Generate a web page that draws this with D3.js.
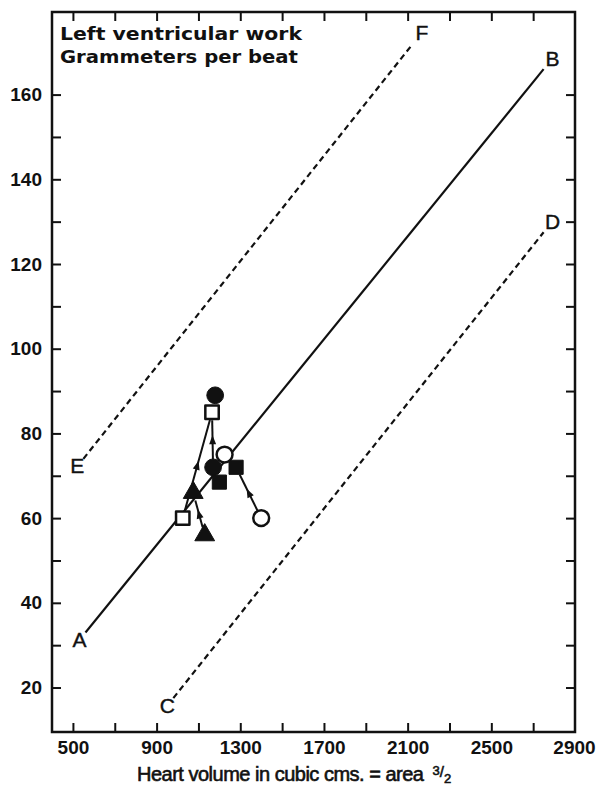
<!DOCTYPE html>
<html>
<head>
<meta charset="utf-8">
<script src="https://cdn.jsdelivr.net/npm/d3@7"></script>
<style>
  body { margin: 0; background: #fff; }
  svg { display: block; }
  .tick text { font-family: 'Liberation Sans', Arial, sans-serif; font-weight: bold; font-size: 19px; fill: #111; }
  .letter { font-family: 'Liberation Sans', Arial, sans-serif; font-size: 21px; fill: #111; stroke: #111; stroke-width: 0.4; }
  .title { font-family: 'DejaVu Sans', sans-serif; font-weight: bold; font-size: 17px; fill: #111; }
  .axisLabel { font-family: 'Liberation Sans', Arial, sans-serif; font-size: 20px; fill: #111; stroke: #111; stroke-width: 0.6; }
</style>
</head>
<body>
<div id="chart"></div>
<script>
// Axis ticks
const xTicks = [500, 700, 900, 1100, 1300, 1500, 1700, 1900, 2100, 2300, 2500, 2700];
const xLabels = [500, 900, 1300, 1700, 2100, 2500, 2900];
const yTicks = [20, 30, 40, 50, 60, 70, 80, 90, 100, 110, 120, 130, 140, 150, 160];
const yLabels = [20, 40, 60, 80, 100, 120, 140, 160];

// Reference lines: start and end labels, volumes and work
const lineStartName = ['A', 'E', 'C'];
const lineEndName = ['B', 'F', 'D'];
const lineStartVolume = [560, 550, 980];
const lineStartWork = [33, 74, 17.5];
const lineEndVolume = [2750, 2125, 2750];
const lineEndWork = [166, 172, 127.5];
const lineDashed = [false, true, true];

// Observations
const pointVolume = [1180, 1165, 1225, 1170, 1280, 1200, 1075, 1025, 1130, 1400];
const pointWork = [89, 85, 75, 72, 72, 68.5, 66, 60, 56, 60];
const pointShape = ['circle', 'square', 'circle', 'circle', 'square', 'square', 'triangle', 'square', 'triangle', 'circle'];
const pointFilled = [true, false, false, true, true, true, true, false, true, false];
// arrows: from point index -> to point index
const arrowFrom = [7, 3, 8, 9];
const arrowTo = [1, 1, 6, 4];

const W = 596, H = 799;
const margin = { left: 52, right: 21, top: 12, bottom: 67 };
const width = W - margin.left - margin.right;
const height = H - margin.top - margin.bottom;

const svg = d3.select('#chart').append('svg')
  .attr('width', W)
  .attr('height', H);
const g = svg.append('g')
  .attr('transform', 'translate(' + margin.left + ',' + margin.top + ')');

const x = d3.scaleLinear().domain([400, 2900]).range([0, width]);
const y = d3.scaleLinear().domain([9.5, 179.5]).range([height, 0]);

// Axes (ticks pointing inward)
const tickLen = 9;
const xAxisB = g.append('g')
  .attr('transform', 'translate(0,' + height + ')')
  .call(d3.axisBottom(x).tickValues(xTicks).tickSize(-tickLen).tickFormat(''));
const xAxisT = g.append('g')
  .call(d3.axisTop(x).tickValues(xTicks).tickSize(-tickLen).tickFormat(''));
const yAxisL = g.append('g')
  .call(d3.axisLeft(y).tickValues(yTicks).tickSize(-tickLen).tickFormat(''));
const yAxisR = g.append('g')
  .attr('transform', 'translate(' + width + ',0)')
  .call(d3.axisRight(y).tickValues(yTicks).tickSize(-tickLen).tickFormat(''));
[xAxisB, xAxisT, yAxisL, yAxisR].forEach(a => {
  a.select('.domain').remove();
  a.selectAll('.tick line').attr('stroke', '#111').attr('stroke-width', 2);
});

// Label-only axes
const xLab = g.append('g')
  .attr('transform', 'translate(0,' + height + ')')
  .call(d3.axisBottom(x).tickValues(xLabels).tickSize(0).tickPadding(9).tickFormat(d3.format('d')));
xLab.select('.domain').remove();
// keep the last label inside the page
xLab.selectAll('.tick text').filter(d => d === 2900).attr('dx', -1);
const yLab = g.append('g')
  .call(d3.axisLeft(y).tickValues(yLabels).tickSize(0).tickPadding(10).tickFormat(d3.format('d')));
yLab.select('.domain').remove();

// Frame
g.append('rect')
  .attr('x', 0).attr('y', 0)
  .attr('width', width).attr('height', height)
  .attr('fill', 'none')
  .attr('stroke', '#111')
  .attr('stroke-width', 2.5);

// Reference lines
lineStartName.forEach((name, i) => {
  const x1 = x(lineStartVolume[i]), y1 = y(lineStartWork[i]);
  const x2 = x(lineEndVolume[i]), y2 = y(lineEndWork[i]);
  g.append('line')
    .attr('x1', x1).attr('y1', y1)
    .attr('x2', x2).attr('y2', y2)
    .attr('stroke', '#111')
    .attr('stroke-width', 2.2)
    .attr('stroke-dasharray', lineDashed[i] ? '6,4' : null);
  g.append('text')
    .attr('class', 'letter')
    .attr('x', x1 - 6).attr('y', y1 + 9)
    .attr('text-anchor', 'middle')
    .attr('dominant-baseline', 'middle')
    .text(name);
  g.append('text')
    .attr('class', 'letter')
    .attr('x', x2 + 9).attr('y', y2 - 9)
    .attr('text-anchor', 'middle')
    .attr('dominant-baseline', 'middle')
    .text(lineEndName[i]);
});

// Arrows
arrowFrom.forEach((from, i) => {
  const to = arrowTo[i];
  const x1 = x(pointVolume[from]), y1 = y(pointWork[from]);
  const x2 = x(pointVolume[to]), y2 = y(pointWork[to]);
  const len = Math.hypot(x2 - x1, y2 - y1);
  const ux = (x2 - x1) / len, uy = (y2 - y1) / len;
  const pad = 8;
  g.append('line')
    .attr('x1', x1 + ux * pad).attr('y1', y1 + uy * pad)
    .attr('x2', x2 - ux * pad).attr('y2', y2 - uy * pad)
    .attr('stroke', '#111')
    .attr('stroke-width', 2);
  const mx = (x1 + x2) / 2, my = (y1 + y2) / 2;
  const hl = 9, hw = 3.5;
  const tip = [mx + ux * hl / 2, my + uy * hl / 2];
  const b1 = [mx - ux * hl / 2 - uy * hw, my - uy * hl / 2 + ux * hw];
  const b2 = [mx - ux * hl / 2 + uy * hw, my - uy * hl / 2 - ux * hw];
  g.append('path')
    .attr('d', 'M' + tip + 'L' + b1 + 'L' + b2 + 'Z')
    .attr('fill', '#111');
});

// Points
const symType = { circle: d3.symbolCircle, square: d3.symbolSquare, triangle: d3.symbolTriangle };
const symSize = { circle: 220, square: 200, triangle: 170 };
pointVolume.forEach((v, i) => {
  const shape = pointShape[i];
  const filled = pointFilled[i];
  g.append('path')
    .attr('transform', 'translate(' + x(v) + ',' + y(pointWork[i]) + ')')
    .attr('d', d3.symbol().type(symType[shape]).size(filled ? symSize[shape] : symSize[shape] * 0.9)())
    .attr('fill', filled ? '#111' : '#fff')
    .attr('stroke', '#111')
    .attr('stroke-width', filled ? 1 : 2.5)
    .attr('stroke-linejoin', 'round');
});

// Titles
g.append('text')
  .attr('class', 'title')
  .attr('x', 8).attr('y', 28)
  .attr('textLength', 242)
  .attr('lengthAdjust', 'spacingAndGlyphs')
  .text('Left ventricular work');
g.append('text')
  .attr('class', 'title')
  .attr('x', 8).attr('y', 51)
  .attr('textLength', 238)
  .attr('lengthAdjust', 'spacingAndGlyphs')
  .text('Grammeters per beat');

const xl = svg.append('text')
  .attr('class', 'axisLabel')
  .attr('x', 137).attr('y', 781);
xl.append('tspan')
  .attr('textLength', 292)
  .attr('lengthAdjust', 'spacing')
  .text('Heart volume in cubic cms. = area ');
xl.append('tspan').attr('dx', 4).attr('dy', -6).attr('font-size', 13).text('3');
xl.append('tspan').attr('dy', 2).attr('font-size', 15).text('/');
xl.append('tspan').attr('dy', 6).attr('font-size', 13).text('2');
</script>
</body>
</html>
